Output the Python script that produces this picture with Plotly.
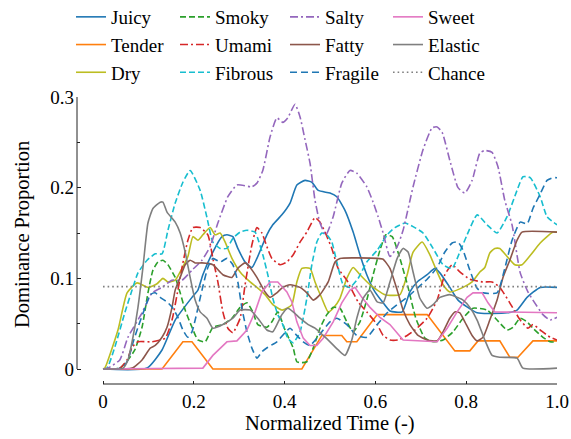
import plotly.graph_objects as go

# ---------------- data ----------------
juicy_x = [0, .097, .130, .159, .196, .209, .220, .242, .262, .273, .286, .297, .313, .328, .339, .361, .374, .394, .412, .427, .445, .460, .474, .500, .515, .533, .551, .566, .581, .599, .617, .632, .659, .676, .692, .714, .731, .742, .764, .782, .824, .890, .912, .934, .963, 1.0]
juicy_y = [0, .001, .021, .054, .079, .087, .104, .129, .146, .148, .146, .133, .118, .112, .122, .148, .159, .170, .183, .203, .208, .206, .197, .194, .190, .175, .151, .126, .104, .085, .073, .064, .063, .085, .096, .104, .111, .106, .090, .076, .062, .062, .065, .079, .090, .090]

tender_x = [0, .130, .176, .196, .242, .438, .482, .526, .537, .559, .604, .714, .775, .808, .826, .874, .896, .914, .947, 1.0]
tender_y = [0, 0, .030, .030, 0, 0, .037, .037, .030, .030, .060, .060, .020, .020, .031, .031, .013, .013, .031, .031]

dry_x = [0, .004, .033, .053, .075, .099, .119, .132, .143, .159, .174, .187, .198, .209, .220, .236, .247, .258, .269, .284, .302, .324, .339, .357, .374, .394, .405, .416, .427, .438, .456, .467, .482, .496, .507, .522, .537, .551, .566, .588, .621, .654, .670, .683, .703, .720, .736, .749, .764, .793, .813, .830, .841, .852, .863, .874, .907, .923, .963, .991, 1.0]
dry_y = [0, .001, .043, .084, .095, .090, .094, .100, .096, .098, .111, .124, .146, .142, .148, .156, .148, .150, .140, .122, .107, .096, .090, .082, .071, .065, .067, .071, .096, .111, .111, .096, .078, .063, .067, .078, .100, .112, .104, .093, .082, .082, .104, .129, .140, .126, .107, .093, .085, .090, .096, .107, .112, .128, .133, .133, .115, .115, .139, .151, .151]

smoky_x = [0, .037, .055, .070, .086, .099, .110, .121, .132, .143, .159, .170, .181, .196, .209, .225, .242, .264, .284, .302, .317, .330, .341, .361, .372, .385, .401, .419, .427, .438, .449, .463, .478, .493, .507, .522, .537, .551, .566, .581, .595, .610, .623, .637, .654, .672, .689, .709, .727, .749, .771, .793, .815, .846, .868, .890, .903, .919, .934, .947, .969, .985, 1.0]
smoky_y = [0, .001, .010, .021, .046, .084, .109, .118, .120, .115, .101, .084, .065, .046, .032, .030, .046, .049, .056, .068, .073, .063, .049, .046, .052, .063, .043, .023, .008, .007, .008, .023, .045, .060, .068, .067, .052, .041, .052, .076, .104, .131, .148, .146, .122, .090, .056, .034, .030, .032, .041, .056, .067, .065, .054, .043, .046, .056, .052, .045, .035, .030, .030]

umami_x = [0, .037, .053, .064, .077, .108, .137, .152, .165, .176, .187, .198, .214, .231, .242, .253, .264, .275, .286, .302, .313, .328, .339, .350, .361, .372, .390, .405, .419, .434, .449, .467, .478, .489, .504, .518, .537, .562, .581, .604, .617, .632, .650, .670, .687, .714, .736, .753, .769, .786, .808, .837, .857, .874, .896, .919, .936, .947, .963, .985, 1.0]
umami_y = [0, .001, .010, .024, .030, .030, .034, .054, .087, .117, .142, .156, .156, .148, .122, .096, .063, .045, .040, .056, .093, .137, .156, .150, .135, .122, .115, .118, .126, .140, .151, .167, .162, .151, .133, .111, .098, .074, .063, .049, .037, .032, .032, .037, .043, .056, .076, .104, .115, .107, .099, .096, .096, .090, .073, .054, .045, .049, .043, .035, .032]

fibrous_x = [0, .009, .026, .048, .064, .077, .097, .115, .130, .143, .159, .176, .192, .214, .229, .242, .258, .273, .286, .302, .317, .335, .341, .352, .363, .374, .385, .396, .407, .419, .434, .449, .460, .471, .482, .493, .504, .515, .529, .544, .562, .581, .604, .626, .643, .665, .683, .705, .727, .749, .769, .786, .802, .824, .846, .868, .890, .912, .925, .941, .963, .978, 1.0]
fibrous_y = [0, .001, .024, .062, .087, .106, .120, .127, .127, .153, .183, .206, .219, .197, .167, .140, .133, .133, .144, .151, .153, .151, .144, .126, .104, .078, .060, .049, .034, .029, .041, .078, .115, .140, .150, .148, .140, .118, .093, .090, .100, .118, .131, .148, .156, .161, .157, .150, .133, .115, .111, .129, .148, .170, .159, .150, .168, .197, .212, .211, .190, .168, .159]

salty_x = [0, .011, .037, .055, .086, .108, .130, .152, .174, .196, .218, .236, .253, .275, .295, .328, .339, .352, .368, .383, .396, .407, .423, .434, .445, .456, .467, .478, .491, .507, .526, .544, .559, .581, .595, .606, .617, .632, .648, .661, .683, .705, .725, .736, .747, .764, .782, .797, .813, .830, .841, .857, .870, .885, .901, .919, .936, .947, .969, .985, 1.0]
salty_y = [0, .001, .010, .035, .062, .084, .090, .098, .098, .109, .120, .135, .161, .190, .203, .201, .205, .219, .256, .277, .272, .277, .292, .278, .253, .227, .186, .161, .148, .168, .205, .219, .216, .201, .184, .168, .150, .124, .135, .153, .201, .242, .266, .267, .261, .230, .200, .194, .208, .238, .241, .239, .223, .186, .159, .106, .085, .076, .060, .054, .057]

fatty_x = [0, .064, .086, .104, .115, .130, .141, .152, .159, .170, .181, .192, .203, .218, .242, .264, .284, .297, .313, .324, .339, .357, .368, .383, .396, .412, .434, .449, .463, .478, .496, .511, .522, .604, .617, .632, .648, .661, .676, .694, .714, .736, .749, .764, .775, .786, .797, .813, .824, .837, .852, .868, .881, .896, .912, .923, 1.0]
fatty_y = [0, .001, .010, .023, .026, .035, .046, .068, .087, .101, .115, .120, .117, .117, .115, .104, .101, .111, .117, .112, .101, .085, .079, .084, .090, .093, .090, .084, .076, .082, .096, .118, .122, .122, .121, .111, .087, .065, .049, .037, .032, .031, .041, .056, .063, .062, .052, .037, .031, .035, .054, .076, .101, .120, .142, .151, .151]

fragile_x = [0, .042, .055, .066, .077, .093, .104, .115, .126, .141, .154, .165, .176, .187, .196, .203, .218, .231, .242, .258, .273, .286, .297, .306, .317, .328, .339, .350, .363, .383, .401, .412, .427, .441, .456, .471, .485, .500, .515, .537, .559, .581, .604, .626, .648, .670, .692, .714, .736, .753, .769, .782, .793, .808, .824, .837, .868, .885, .901, .919, .934, .947, .963, .978, .991, 1.0]
fragile_y = [0, .001, .010, .029, .046, .068, .082, .084, .079, .074, .067, .057, .043, .035, .041, .054, .087, .112, .122, .118, .122, .115, .096, .067, .041, .023, .012, .019, .024, .030, .040, .045, .037, .030, .026, .034, .043, .052, .056, .049, .037, .035, .049, .062, .071, .079, .089, .099, .112, .129, .139, .140, .131, .109, .089, .084, .084, .111, .142, .162, .160, .177, .193, .208, .211, .211]

sweet_x = [0, .220, .242, .273, .295, .317, .335, .350, .368, .385, .405, .416, .427, .441, .456, .471, .485, .507, .526, .544, .555, .570, .588, .610, .632, .661, .736, .758, .780, .802, .815, .835, .848, .863, 1.0]
sweet_y = [0, .001, .015, .030, .031, .043, .063, .085, .096, .096, .085, .074, .052, .034, .026, .026, .034, .052, .073, .087, .090, .079, .068, .057, .049, .032, .030, .045, .063, .079, .084, .084, .073, .063, .062]

elastic_x = [0, .044, .055, .066, .077, .088, .099, .110, .126, .132, .141, .159, .170, .181, .192, .203, .214, .229, .242, .264, .286, .302, .324, .341, .361, .374, .394, .407, .419, .434, .452, .467, .485, .500, .518, .533, .548, .559, .573, .588, .604, .617, .632, .648, .661, .672, .683, .698, .714, .727, .742, .764, .780, .793, .808, .824, .841, .857, .874, .912, .925, 1.0]
elastic_y = [0, .001, .010, .035, .068, .112, .161, .177, .184, .184, .173, .162, .150, .129, .101, .076, .063, .056, .045, .049, .056, .065, .065, .056, .043, .041, .060, .067, .063, .056, .049, .045, .037, .030, .021, .015, .032, .056, .078, .087, .074, .073, .096, .122, .133, .129, .107, .078, .067, .071, .079, .082, .079, .076, .068, .054, .032, .015, .013, .012, .001, .001]

chance_x = [0, 1.0]
chance_y = [0.0909, 0.0909]

x_tick_vals = [0, 0.2, 0.4, 0.6, 0.8, 1.0]
x_tick_text = ["0", "0.2", "0.4", "0.6", "0.8", "1.0"]
y_tick_vals = [0, 0.1, 0.2, 0.3]
y_tick_text = ["0", "0.1", "0.2", "0.3"]
y_minor_vals = [0.05, 0.15, 0.25]

# ---------------- styling ----------------
FONT = "Liberation Serif, Times New Roman, Times, serif"
FS = 19
FS_TITLE = 20.5
LW = 1.6
DASH = "6px,3px"
LDASH = "7px,4px"
DASHDOT = "8px,3px,2px,3px"

series = [
    ("Juicy", juicy_x, juicy_y, "#1f77b4", "solid", "legend", "spline"),
    ("Tender", tender_x, tender_y, "#ff7f0e", "solid", "legend", "linear"),
    ("Dry", dry_x, dry_y, "#bcbd22", "solid", "legend", "spline"),
    ("Smoky", smoky_x, smoky_y, "#2ca02c", DASH, "legend2", "spline"),
    ("Umami", umami_x, umami_y, "#d62728", DASHDOT, "legend2", "spline"),
    ("Fibrous", fibrous_x, fibrous_y, "#17becf", DASH, "legend2", "spline"),
    ("Salty", salty_x, salty_y, "#9467bd", DASHDOT, "legend3", "spline"),
    ("Fatty", fatty_x, fatty_y, "#8c564b", "solid", "legend3", "spline"),
    ("Fragile", fragile_x, fragile_y, "#1f77b4", LDASH, "legend3", "spline"),
    ("Sweet", sweet_x, sweet_y, "#e377c2", "solid", "legend4", "linear"),
    ("Elastic", elastic_x, elastic_y, "#7f7f7f", "solid", "legend4", "spline"),
]

fig = go.Figure()
for name, xs, ys, col, dash, leg, shape in series:
    line = dict(color=col, width=LW, dash=dash, shape=shape)
    if shape == "spline":
        line["smoothing"] = 0.5
    fig.add_trace(go.Scatter(x=xs, y=ys, mode="lines", name=name, line=line, legend=leg))
fig.add_trace(go.Scatter(x=chance_x, y=chance_y, mode="lines", name="Chance",
                         line=dict(color="#808080", width=1.6, dash="1.6px,3px"), legend="legend4"))

W, H = 571, 439
ML, MR, MT, MB = 77, 14, 97, 55
PW, PH = W - ML - MR, H - MT - MB

leg_common = dict(orientation="v", yanchor="top", xanchor="left", bgcolor="rgba(0,0,0,0)",
                  xref="paper", yref="paper",
                  font=dict(family=FONT, size=FS, color="black"), itemwidth=30, tracegroupgap=0)
ly = 1 + (MT + 2) / PH
fig.update_layout(
    width=W, height=H, autosize=False,
    margin=dict(l=ML, r=MR, t=MT, b=MB, pad=0, autoexpand=False),
    paper_bgcolor="white", plot_bgcolor="white",
    font=dict(family=FONT, size=FS, color="black"),
    showlegend=True,
    legend=dict(x=(71 - ML) / PW, y=ly, **leg_common),
    legend2=dict(x=(175 - ML) / PW, y=ly, **leg_common),
    legend3=dict(x=(285 - ML) / PW, y=ly, **leg_common),
    legend4=dict(x=(388 - ML) / PW, y=ly, **leg_common),
    xaxis=dict(range=[-26 / 454, 1.0], showgrid=False, zeroline=False, showline=False,
               automargin=False,
               tickmode="array", tickvals=x_tick_vals, ticktext=x_tick_text,
               ticks="inside", ticklen=3, tickwidth=1, tickcolor="#222",
               tickfont=dict(family=FONT, size=FS, color="black"), ticklabelstandoff=4),
    yaxis=dict(range=[-15 / 906.7, 0.3], showgrid=False, zeroline=False, showline=False,
               automargin=False,
               tickmode="array", tickvals=y_tick_vals, ticktext=y_tick_text,
               ticks="inside", ticklen=4, tickwidth=1, tickcolor="#222",
               minor=dict(tickmode="array", tickvals=y_minor_vals, ticks="inside", ticklen=2.5,
                          tickwidth=1, tickcolor="#222"),
               tickfont=dict(family=FONT, size=FS, color="black"), ticklabelstandoff=2),
    shapes=[
        dict(type="line", xref="x", yref="paper", x0=0, x1=1, y0=0, y1=0,
             line=dict(color="#222", width=1)),
        dict(type="line", xref="paper", yref="y", x0=0, x1=0, y0=0, y1=0.3,
             line=dict(color="#222", width=1)),
    ],
    annotations=[
        dict(text="Dominance Proportion", xref="paper", yref="paper", x=(22 - ML) / PW,
             y=(384 - 235) / PH, textangle=-90, showarrow=False, xanchor="center", yanchor="middle",
             font=dict(family=FONT, size=FS_TITLE, color="black")),
        dict(text="Normalized Time (-)", xref="paper", yref="paper", x=(330 - ML) / PW,
             y=(384 - 423) / PH, showarrow=False, xanchor="center", yanchor="middle",
             font=dict(family=FONT, size=FS_TITLE, color="black")),
    ],
)

fig.write_html("out.html", config={"displayModeBar": False},
               post_script="document.body.style.margin='0px';document.body.style.overflow='hidden';")
